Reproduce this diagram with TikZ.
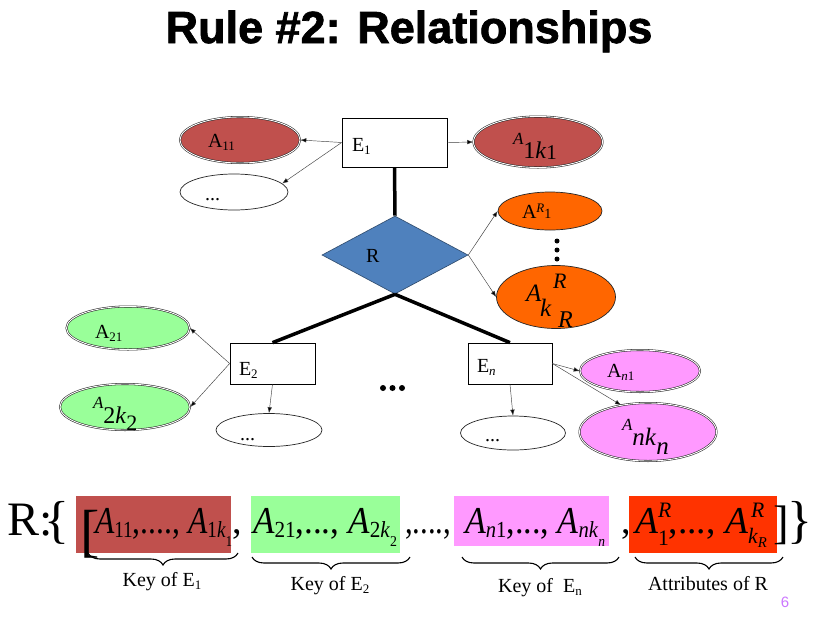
\documentclass[tikz,border=0pt]{standalone}
\usepackage{graphicx}
\usepackage{fontspec}
\setmainfont{Liberation Serif}
\newfontfamily\titlefont{Liberation Sans}
\newfontfamily\titleheavy{Liberation Sans Bold}[FakeBold=1.6]
\usetikzlibrary{shapes.geometric,arrows.meta,decorations.pathreplacing}
\definecolor{brn}{HTML}{C0504D}
\definecolor{grn}{HTML}{99FF99}
\definecolor{pnk}{HTML}{FF99FF}
\definecolor{org}{HTML}{FF6600}
\definecolor{blu}{HTML}{4F81BD}
\definecolor{redr}{HTML}{FF3300}
\definecolor{pgnum}{HTML}{CC77FF}
\newcommand\fs[2]{{\fontsize{#1}{#1}\selectfont #2}}
\newcommand\dn[3]{\raisebox{-#1pt}{\fs{#2}{#3}}}
\newcommand\up[3]{\raisebox{#1pt}{\fs{#2}{#3}}}
\begin{document}
\begin{tikzpicture}[x=1pt,y=-1pt,
  entbox/.style={draw=black,line width=0.7pt,fill=white,inner sep=0pt},
  attr/.style={ellipse,draw=black!85,line width=0.7pt,inner sep=0pt},
  keyattr/.style={ellipse,inner sep=0pt,draw=black!85,line width=0.55pt,double=white,double distance=0.9pt},
  arr/.style={draw=black!75,line width=0.45pt,-{Latex[length=6pt,width=4.5pt,fill=black]}},
  heavy/.style={line width=3.5pt,black},
  lbl/.style={anchor=base west,inner sep=0pt,outer sep=0pt},
  ctr/.style={anchor=center,inner sep=0pt,outer sep=0pt},
  keybrace/.style={decorate,decoration={brace,mirror,amplitude=12pt},line width=1.1pt},
  keytxt/.style={anchor=base,inner sep=0pt,font=\fontsize{20}{20}\selectfont}]
\useasboundingbox (0,0) rectangle (838,627);
\fill[white] (0,0) rectangle (838,627);

% title
\node[anchor=base,inner sep=0pt] (title) at (409,43) {\titleheavy\fs{45}{Rule \#2: Relationships}};

% entities
\node[entbox,minimum width=105pt,minimum height=49pt] (E1) at (394.5,142.5) {};
\node[entbox,minimum width=85pt,minimum height=41pt] (E2) at (272.5,363.5) {};
\node[entbox,minimum width=84pt,minimum height=41pt] (En) at (510,363.5) {};
\node[lbl] (tE1) at (352,151) {\fs{20}{E\dn{3}{13}{1}}};
\node[lbl] (tE2) at (239,375) {\fs{20}{E\dn{3}{13}{2}}};
\node[lbl] (tEn) at (477,372) {\fs{20}{E\dn{3}{13}{\textit{n}}}};

% relationship
\node[diamond,fill=blu,draw=blu!55!black,line width=0.6pt,inner sep=0pt,minimum width=146pt,minimum height=78pt] (R) at (395,255) {};
\node[lbl] (tR) at (366,262) {\fs{20}{R}};

% attributes of E1
\node[keyattr,fill=brn,minimum width=120pt,minimum height=46pt] (A11) at (240,140) {};
\node[lbl] (tA11) at (208,147) {\fs{20}{A\dn{3}{13}{11}}};
\node[attr,fill=white,minimum width=108pt,minimum height=36pt] (D1) at (234,192) {};
\node[lbl] (tD1) at (205,200) {\fs{20}{...}};
\node[keyattr,fill=brn,minimum width=129pt,minimum height=51pt] (A1k) at (538,142) {};
\node[lbl] (tA1k) at (513,144) {\fs{17}{\textit{A}}\dn{14}{24}{1\textit{k}}\dn{15}{21}{1}};

% attributes of R
\node[attr,fill=org,minimum width=104pt,minimum height=38pt] (AR1) at (550,211) {};
\node[lbl] (tAR1) at (522,218) {\fs{20}{A\up{6}{13}{\textit{R}}\fs{14}{1}}};
\node[attr,fill=org,minimum width=119pt,minimum height=63pt] (AkR) at (556,297) {};
\node[lbl] (tAkRa) at (526,301) {\fs{25}{\textit{A}}};
\node[lbl] (tAkRb) at (553,288) {\fs{22}{\textit{R}}};
\node[lbl] (tAkRc) at (540,316) {\fs{25}{\textit{k}}};
\node[lbl] (tAkRd) at (558,327) {\fs{24}{\textit{R}}};
\fill (557,241) circle (2.5pt) (557,250) circle (2.5pt) (557,259) circle (2.5pt);

% attributes of E2
\node[keyattr,fill=grn,minimum width=123pt,minimum height=43pt] (A21) at (128,328) {};
\node[lbl] (tA21) at (95,338) {\fs{20}{A\dn{3}{13}{21}}};
\node[keyattr,fill=grn,minimum width=130pt,minimum height=46pt] (A2k) at (125,407) {};
\node[lbl] (tA2k) at (93,408) {\fs{17}{\textit{A}}\dn{15}{24}{2\textit{k}}\dn{22}{22}{2}};
\node[attr,fill=white,minimum width=106pt,minimum height=33pt] (D2) at (269,430) {};
\node[lbl] (tD2) at (240,440) {\fs{20}{...}};

% attributes of En
\node[keyattr,fill=pnk,minimum width=120pt,minimum height=42pt] (An1) at (640,371) {};
\node[lbl] (tAn1) at (607,377) {\fs{20}{A\dn{3}{13}{\textit{n}1}}};
\node[keyattr,fill=pnk,minimum width=137pt,minimum height=58pt] (Ank) at (648,432) {};
\node[lbl] (tAnk) at (622,430) {\fs{17}{\textit{A}}\dn{15}{25}{\textit{nk}}\dn{24}{25}{\textit{n}}};
\node[attr,fill=white,minimum width=105pt,minimum height=34pt] (D3) at (513,433) {};
\node[lbl] (tD3) at (485,441) {\fs{20}{...}};

% more entities
\fill (383,388) circle (3pt) (392.5,388) circle (3pt) (402,388) circle (3pt);

% connectors
\draw[heavy] (E1.south) -- (R.north);
\draw[heavy] (R.south) -- (E2.north);
\draw[heavy] (R.south) -- (En.north);
\draw[arr] (E1.west) -- (A11.east);
\draw[arr] (E1.west) -- (D1.10);
\draw[arr] (E1.east) -- (A1k.west);
\draw[arr] (R.east) -- (AR1.west);
\draw[arr] (R.east) -- (AkR.west);
\draw[arr] (E2.west) -- (A21.east);
\draw[arr] (E2.west) -- (A2k.east);
\draw[arr] (E2.south) -- (D2.north);
\draw[arr] (En.east) -- (An1.west);
\draw[arr] (En.east) -- (Ank.135);
\draw[arr] (En.south) -- (D3.north);

% formula
\fill[brn] (76,496) rectangle (231,553);
\fill[grn] (251,496) rectangle (400,553);
\fill[pnk] (454,496) rectangle (609,546);
\fill[redr] (629,496) rectangle (777,553);
\node[lbl] (fR) at (7,535) {\fs{48}{R:}};
\node[ctr] (fbl) at (57,523) {\fs{52}{\{}};
\node[ctr] (fsl) at (90,534) {\fs{58}{[}};
\node[lbl] (g1) at (95,533) {\resizebox{137pt}{\height}{\fs{38}{\textit{A}\dn{4}{23}{11},...., \textit{A}\dn{4}{23}{1\textit{k}\dn{9}{15}{1}}}}};
\node[lbl] (c1) at (232,533) {\fs{38}{,}};
\node[lbl] (g2) at (253,533) {\resizebox{144pt}{\height}{\fs{38}{\textit{A}\dn{4}{23}{21},..., \textit{A}\dn{4}{23}{2\textit{k}\dn{9}{15}{2}}}}};
\node[lbl] (c2) at (405,533) {\resizebox{46pt}{\height}{\fs{38}{,....,}}};
\node[lbl] (g3) at (465,533) {\resizebox{140pt}{\height}{\fs{38}{\textit{A}\dn{4}{23}{\textit{n}1},..., \textit{A}\dn{4}{23}{\textit{nk}\dn{9}{15}{\textit{n}}}}}};
\node[lbl] (c3) at (621,533) {\fs{38}{,}};
\node[lbl] (g4) at (635,533) {\resizebox{132pt}{\height}{\fs{38}{\textit{A}\rlap{\up{16}{22}{\textit{R}}}\dn{12}{22}{1},..., \textit{A}\rlap{\kern3pt\up{16}{22}{\textit{R}}}\dn{10}{22}{\textit{k}\dn{4}{15}{\textit{R}}}}}};
\node[ctr] (fsr) at (781,525) {\fs{47}{]}};
\node[ctr] (fbr) at (800,523) {\fs{52}{\}}};

% braces
\draw[keybrace] (88,553) -- (238,553);
\draw[keybrace] (252,557) -- (410,557);
\draw[keybrace] (462,557) -- (619,557);
\draw[keybrace] (635,557) -- (783,557);
\node[keytxt] (k1) at (162,586) {Key of E\dn{3}{13}{1}};
\node[keytxt] (k2) at (330,590) {Key of E\dn{3}{13}{2}};
\node[keytxt] (k3) at (540,592) {Key of \ E\dn{3}{13}{n}};
\node[keytxt] (k4) at (708,590) {Attributes of R};

\node[ctr,text=pgnum] (pg) at (785,602) {\titlefont\fs{15}{6}};
\end{tikzpicture}
\end{document}
